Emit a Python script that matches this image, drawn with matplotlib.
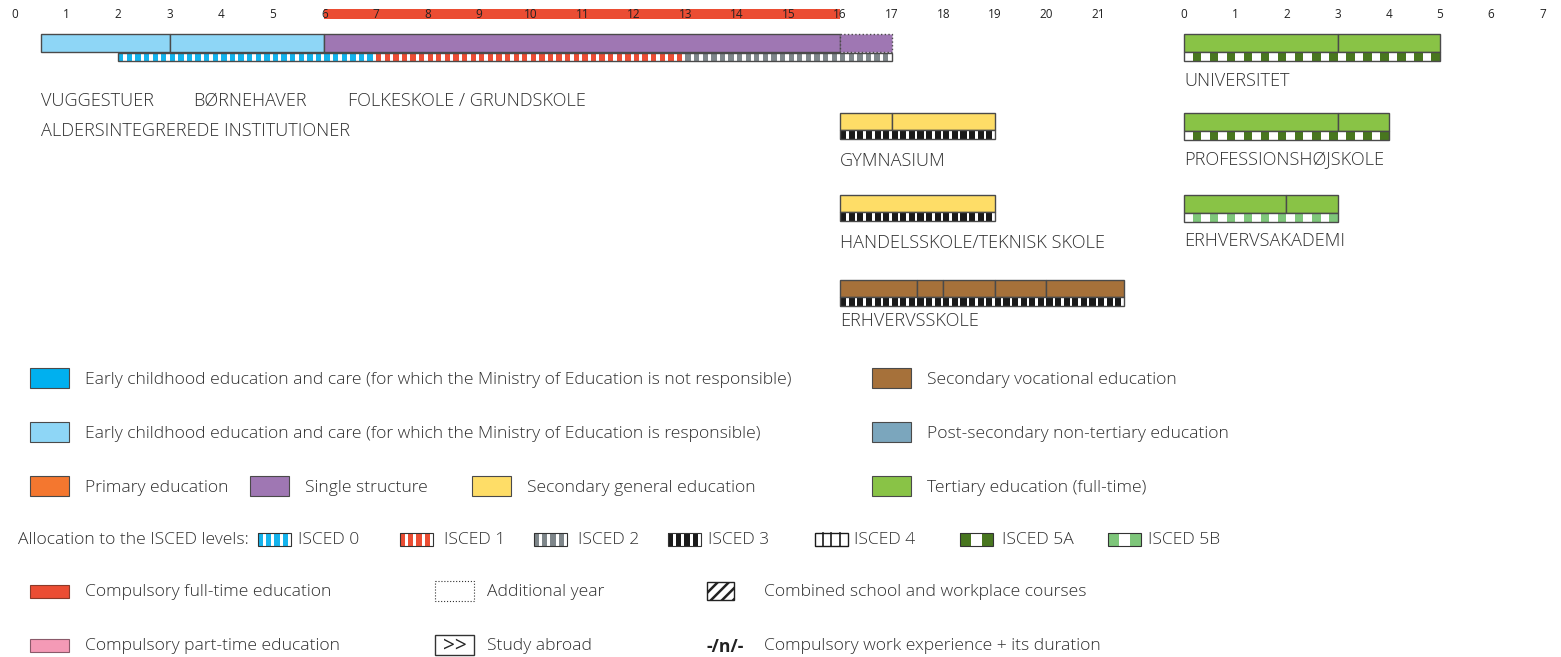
#!/usr/bin/env python3
"""
Danish education system diagram (Eurydice style), redrawn with matplotlib.
"""

import numpy as np
import matplotlib.pyplot as plt

plt.rcParams['font.family'] = ['Open Sans', 'DejaVu Sans']
plt.rcParams['font.weight'] = 'light'
plt.rcParams['hatch.linewidth'] = 1.8

# ---------- data ----------
left_years = list(range(0, 22))
right_years = list(range(0, 8))
compulsory_span = (6, 16)

# main (basic education) bar
main_edges = [0.5, 3, 6, 16, 17]
main_kinds = ['ecec_resp', 'ecec_resp', 'single', 'single']
main_extra = [False, False, False, True]          # additional year
main_isced = [(2, 7, 'isced0'), (7, 13, 'isced1'), (13, 17, 'isced2')]
main_labels = ['VUGGESTUER', 'BØRNEHAVER', 'FOLKESKOLE / GRUNDSKOLE']
main_label_age = [0.5, 3.45, 6.45]
mixed_label = 'ALDERSINTEGREREDE INSTITUTIONER'

# upper secondary programmes (left age axis)
upper_names = ['GYMNASIUM', 'HANDELSSKOLE/TEKNISK SKOLE', 'ERHVERVSSKOLE']
upper_edges = [[16, 17, 19], [16, 19], [16, 17.5, 18, 19, 20, 21.5]]
upper_kinds = ['sec_gen', 'sec_gen', 'sec_voc']
upper_isced = ['isced3', 'isced3', 'isced3']

# tertiary programmes (right axis, years of study)
tert_names = ['UNIVERSITET', 'PROFESSIONSHØJSKOLE', 'ERHVERVSAKADEMI']
tert_edges = [[0, 3, 5], [0, 3, 4], [0, 2, 3]]
tert_isced = ['isced5a', 'isced5a', 'isced5b']

colors = {
    'ecec_not': '#00b0ef',
    'ecec_resp': '#8ed6f6',
    'primary': '#f4772f',
    'single': '#9f77b3',
    'sec_gen': '#fedd67',
    'sec_voc': '#a6713a',
    'postsec': '#7ba6bd',
    'tertiary': '#89c346',
    'compulsory': '#eb4d33',
    'parttime': '#f49ab6',
    'isced0': '#14b3ec',
    'isced1': '#eb4d33',
    'isced2': '#7e868a',
    'isced3': '#1a1a1a',
    'isced5a': '#48761f',
    'isced5b': '#7ec67a',
}
# stripes per year, coloured fraction, white first
stripe_style = {
    'isced0': (6, 0.62, False),
    'isced1': (6, 0.62, False),
    'isced2': (6, 0.62, False),
    'isced3': (6, 0.72, False),
    'isced5a': (3, 0.5, True),
    'isced5b': (3, 0.5, True),
}

legend_rows = [
    [('ecec_not', 'Early childhood education and care (for which the Ministry of Education is not responsible)'),
     ('sec_voc', 'Secondary vocational education')],
    [('ecec_resp', 'Early childhood education and care (for which the Ministry of Education is responsible)'),
     ('postsec', 'Post-secondary non-tertiary education')],
    [('primary', 'Primary education'), ('single', 'Single structure'),
     ('sec_gen', 'Secondary general education'), ('tertiary', 'Tertiary education (full-time)')],
]
isced_keys = ['isced0', 'isced1', 'isced2', 'isced3', 'isced4', 'isced5a', 'isced5b']
isced_names = ['ISCED 0', 'ISCED 1', 'ISCED 2', 'ISCED 3', 'ISCED 4', 'ISCED 5A', 'ISCED 5B']

TXT = '#2f2f2f'
EDGE = '#4a4a4a'
W, H = 1561, 657
PX_LEFT = 51.57    # px per year, left axis
PX_RIGHT = 51.2    # px per year, right axis
FS = 12.6          # legend text
FS_CAP = 13.1      # upper-case programme names
FS_TICK = 8.5
DY = 1.5           # nudge text down a little


def rect(ax, x, w, y, h, **kw):
    return ax.bar(x, h, width=w, bottom=y, align='edge', **kw)


def stripes(ax, a, b, y, h, key):
    per_year, frac, white_first = stripe_style[key]
    step = 1.0 / per_year
    starts = np.arange(a, b - 1e-9, step)
    off = step * (1 - frac) if white_first else 0.0
    rect(ax, a, b - a, y, h, color='white', linewidth=0)
    rect(ax, starts + off, step * frac, y, h, color=colors[key], linewidth=0)


def outline(ax, a, b, y, h, ls='-'):
    rect(ax, a, b - a, y, h, fill=False, edgecolor=EDGE, linewidth=1.0, linestyle=ls)


def programme(ax, edges, kind, isced, y, h=17, sh=9):
    for a, b in zip(edges[:-1], edges[1:]):
        rect(ax, a, b - a, y, h, color=colors[kind], edgecolor=EDGE, linewidth=1.0)
    stripes(ax, edges[0], edges[-1], y + h, sh, isced)
    outline(ax, edges[0], edges[-1], y + h, sh)


def label(ax, x, y, s, fs=FS, **kw):
    kw.setdefault('color', TXT)
    ax.text(x, y + DY, s, ha='left', va='center', fontsize=fs, **kw)


fig = plt.figure(figsize=(W / 100, H / 100), dpi=100)

# left axes: x in years of age, y in pixels
axl = fig.add_axes([0, 0, 1, 1])
axl.set_xlim(-15 / PX_LEFT, (W - 15) / PX_LEFT)
axl.set_ylim(H, 0)
axl.axis('off')

# right axes: x in years of study
axr = fig.add_axes([0, 0, 1, 1])
axr.set_xlim(-1184 / PX_RIGHT, (W - 1184) / PX_RIGHT)
axr.set_ylim(H, 0)
axr.axis('off')
axr.patch.set_alpha(0)

# legend axes in pixels
axg = fig.add_axes([0, 0, 1, 1])
axg.set_xlim(0, W)
axg.set_ylim(H, 0)
axg.axis('off')
axg.patch.set_alpha(0)

# ---- age scales ----
c0, c1 = compulsory_span
rect(axl, c0, c1 - c0, 9, 10, color=colors['compulsory'], linewidth=0)
for yr in left_years:
    axl.text(yr, 14, str(yr), ha='center', va='center', fontsize=FS_TICK,
             fontweight='normal', color='#222222')
for yr in right_years:
    axr.text(yr, 14, str(yr), ha='center', va='center', fontsize=FS_TICK,
             fontweight='normal', color='#222222')

# ---- main bar ----
for a, b, kind, extra in zip(main_edges[:-1], main_edges[1:], main_kinds, main_extra):
    rect(axl, a, b - a, 34, 18, color=colors[kind], edgecolor=EDGE, linewidth=1.0,
         linestyle=':' if extra else '-')
for a, b, key in main_isced:
    stripes(axl, a, b, 53, 8, key)
outline(axl, main_isced[0][0], main_isced[-1][1], 53, 8)

for lab, age in zip(main_labels, main_label_age):
    label(axl, age, 100, lab, FS_CAP)
label(axl, 0.5, 130, mixed_label, FS_CAP)

# ---- upper secondary ----
upper_y = [113, 195, 280]
upper_label_y = [160, 241, 320]
for name, edges, kind, isced, y, ly in zip(upper_names, upper_edges, upper_kinds,
                                           upper_isced, upper_y, upper_label_y):
    programme(axl, edges, kind, isced, y)
    label(axl, edges[0], ly, name, FS_CAP)

# ---- tertiary ----
tert_y = [34, 113, 195]
tert_label_y = [79, 159, 239]
for name, edges, isced, y, ly in zip(tert_names, tert_edges, tert_isced, tert_y, tert_label_y):
    programme(axr, edges, 'tertiary', isced, y, h=18, sh=9)
    label(axr, edges[0], ly, name, FS_CAP)

# ---- legend: colour boxes ----
row_y = [378, 432, 486]
row_x = [[30, 872], [30, 872], [30, 250, 472, 872]]
for items, y, xs in zip(legend_rows, row_y, row_x):
    for (key, lab), x in zip(items, xs):
        rect(axg, x, 39, y - 10, 20, color=colors[key], edgecolor=EDGE, linewidth=0.8)
        label(axg, x + 55, y, lab)

# ---- legend: ISCED patterns ----
label(axg, 18, 539, 'Allocation to the ISCED levels:')
box_x = [258, 400, 534, 668, 815, 960, 1108]
lab_x = [298, 444, 578, 708, 854, 1002, 1148]
for key, name, bx, lx in zip(isced_keys, isced_names, box_x, lab_x):
    y0, bh, bw = 533, 13, 33
    if key == 'isced4':
        rect(axg, bx, bw, y0, bh, color='white', edgecolor='#1a1a1a', linewidth=1.0)
        for k in range(1, 4):
            axg.plot([bx + k * bw / 4] * 2, [y0, y0 + bh], color='#1a1a1a', lw=1.2)
    elif key in ('isced5a', 'isced5b'):
        rect(axg, bx, bw, y0, bh, color='white', linewidth=0)
        for k in (0, 2):
            rect(axg, bx + k * bw / 3, bw / 3, y0, bh, color=colors[key], linewidth=0)
        rect(axg, bx, bw, y0, bh, fill=False, edgecolor='#333333', linewidth=0.8)
    else:
        rect(axg, bx, bw, y0, bh, color='white', linewidth=0)
        for k in range(4):
            rect(axg, bx + k * bw / 4, bw / 4 * 0.62, y0, bh, color=colors[key], linewidth=0)
        rect(axg, bx, bw, y0, bh, fill=False, edgecolor='#333333', linewidth=0.8)
    label(axg, lx, 539, name)

# ---- legend: other symbols ----
rect(axg, 30, 39, 585, 13, color=colors['compulsory'], edgecolor='#8a3a2a', linewidth=0.8)
label(axg, 85, 591, 'Compulsory full-time education')
rect(axg, 30, 39, 639, 13, color=colors['parttime'], edgecolor='#8a5a6a', linewidth=0.8)
label(axg, 85, 645, 'Compulsory part-time education')

rect(axg, 435, 39, 581, 20, fill=False, edgecolor='#333333', linewidth=0.8, linestyle=':')
label(axg, 487, 591, 'Additional year')
rect(axg, 435, 39, 635, 20, fill=False, edgecolor='#333333', linewidth=1.0)
axg.text(455, 646, '>>', ha='center', va='center', fontsize=15, fontweight='normal',
         color='#222222')
label(axg, 487, 645, 'Study abroad')

rect(axg, 707, 27, 582, 18, color='white', edgecolor='#222222', linewidth=1.0, hatch='///')
label(axg, 764, 591, 'Combined school and workplace courses')
label(axg, 707, 645, '-/n/-', fontweight='bold', color='#222222')
label(axg, 764, 645, 'Compulsory work experience + its duration')

fig.savefig('out.png', dpi=100)
